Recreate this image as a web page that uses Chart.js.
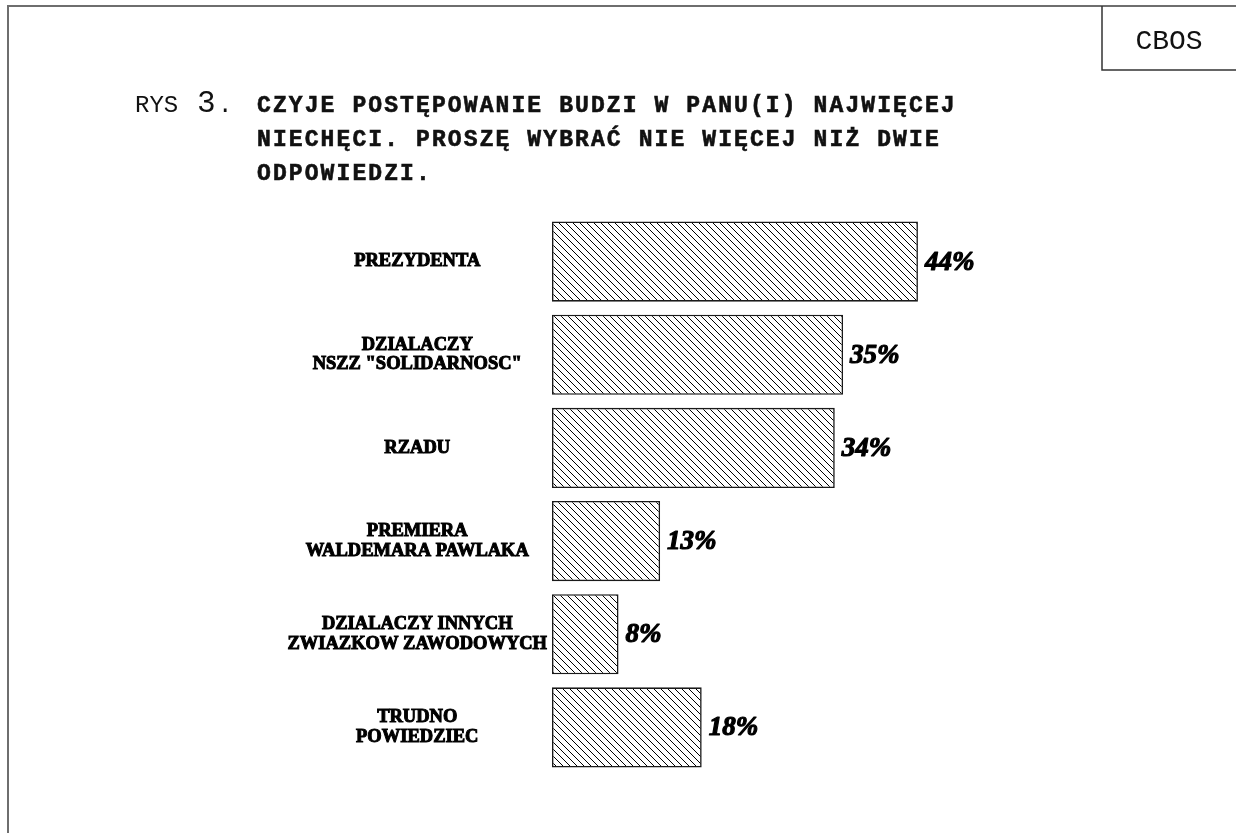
<!DOCTYPE html>
<html>
<head>
<meta charset="utf-8">
<script src="https://cdn.jsdelivr.net/npm/chart.js@4/dist/chart.umd.min.js"></script>
<style>
	html, body { margin: 0; padding: 0; background: #fff; }
	#wrap { width: 1236px; height: 833px; }
</style>
</head>
<body>
<div id="wrap"><canvas id="chart" width="1236" height="833"></canvas></div>
<script>
const categories = [
	'PREZYDENTA',
	['DZIALACZY', 'NSZZ "SOLIDARNOSC"'],
	'RZADU',
	['PREMIERA', 'WALDEMARA PAWLAKA'],
	['DZIALACZY INNYCH', 'ZWIAZKOW ZAWODOWYCH'],
	['TRUDNO', 'POWIEDZIEC'],
];
const values = [44, 35, 34, 13, 8, 18];

const titleLines = [
	'CZYJE POSTĘPOWANIE BUDZI W PANU(I) NAJWIĘCEJ',
	'NIECHĘCI. PROSZĘ WYBRAĆ NIE WIĘCEJ NIŻ DWIE',
	'ODPOWIEDZI.',
];

// diagonal hatch "\\\" on white
function makeHatch() {
	const size = 7;
	const c = document.createElement('canvas');
	c.width = size;
	c.height = size;
	const g = c.getContext('2d');
	g.fillStyle = '#fff';
	g.fillRect(0, 0, size, size);
	g.strokeStyle = '#000';
	g.lineWidth = 1;
	g.beginPath();
	g.moveTo(-1, -1);
	g.lineTo(size + 1, size + 1);
	g.moveTo(-1, size - 1);
	g.lineTo(1, size + 1);
	g.moveTo(size - 1, -1);
	g.lineTo(size + 1, 1);
	g.stroke();
	return g.createPattern(c, 'repeat');
}

const framePlugin = {
	id: 'frame',
	beforeDraw(chart) {
		const ctx = chart.ctx;
		ctx.save();
		ctx.fillStyle = '#fff';
		ctx.fillRect(0, 0, chart.width, chart.height);

		// page frame
		ctx.strokeStyle = '#6e6e6e';
		ctx.lineWidth = 2;
		ctx.beginPath();
		ctx.moveTo(8, 833);
		ctx.lineTo(8, 6);
		ctx.lineTo(1236, 6);
		ctx.stroke();

		// CBOS box
		ctx.strokeStyle = '#333';
		ctx.lineWidth = 1.5;
		ctx.beginPath();
		ctx.moveTo(1102, 6);
		ctx.lineTo(1102, 70);
		ctx.lineTo(1236, 70);
		ctx.stroke();

		ctx.fillStyle = '#111';
		ctx.textBaseline = 'alphabetic';
		ctx.textAlign = 'center';
		ctx.font = '28px "Liberation Mono", monospace';
		ctx.fillText('CBOS', 1169, 49);

		// title
		ctx.textAlign = 'left';
		ctx.font = '24px "Liberation Mono", monospace';
		ctx.fillText('RYS', 135, 112);
		ctx.font = '31px "Liberation Mono", monospace';
		ctx.fillText('3', 197, 112);
		ctx.font = '24px "Liberation Mono", monospace';
		ctx.fillText('.', 218, 112);

		ctx.font = 'bold 23px "Liberation Mono", monospace';
		ctx.letterSpacing = '2.1px';
		ctx.strokeStyle = '#111';
		ctx.lineWidth = 0.6;
		titleLines.forEach((line, i) => {
			ctx.fillText(line, 257, 112 + i * 34);
			ctx.strokeText(line, 257, 112 + i * 34);
		});
		ctx.restore();
	},
};

const valueLabels = {
	id: 'valueLabels',
	afterDatasetsDraw(chart) {
		const ctx = chart.ctx;
		const meta = chart.getDatasetMeta(0);
		ctx.save();
		ctx.fillStyle = '#000';
		ctx.strokeStyle = '#000';
		ctx.lineWidth = 1.2;
		ctx.lineJoin = 'round';
		ctx.font = 'bold italic 27px "Liberation Serif", serif';
		ctx.textAlign = 'left';
		ctx.textBaseline = 'middle';
		meta.data.forEach((bar, i) => {
			const text = values[i] + '%';
			ctx.fillText(text, bar.x + 7, bar.y + 1);
			ctx.strokeText(text, bar.x + 7, bar.y + 1);
		});
		ctx.restore();
	},
};

new Chart(document.getElementById('chart').getContext('2d'), {
	type: 'bar',
	data: {
		labels: categories,
		datasets: [{
			data: values,
			backgroundColor: makeHatch(),
			borderColor: '#1a1a1a',
			borderWidth: 1.6,
			borderSkipped: false,
			barPercentage: 0.86,
			categoryPercentage: 1,
		}],
	},
	options: {
		indexAxis: 'y',
		responsive: false,
		animation: false,
		events: [],
		layout: {
			padding: { left: 272, right: 185, top: 215, bottom: 59 },
		},
		plugins: {
			legend: { display: false },
			tooltip: { enabled: false },
		},
		scales: {
			x: {
				display: false,
				min: 0,
				max: 60,
			},
			y: {
				grid: { display: false, drawTicks: false },
				border: { display: false },
				afterFit(scale) { scale.width = 280; },
				ticks: {
					color: '#000',
					textStrokeColor: '#000',
					textStrokeWidth: 1,
					crossAlign: 'center',
					padding: 5,
					font: { family: '"Liberation Serif", serif', weight: 'bold', size: 18.5, lineHeight: 1.05 },
				},
			},
		},
	},
	plugins: [framePlugin, valueLabels],
});
</script>
</body>
</html>
